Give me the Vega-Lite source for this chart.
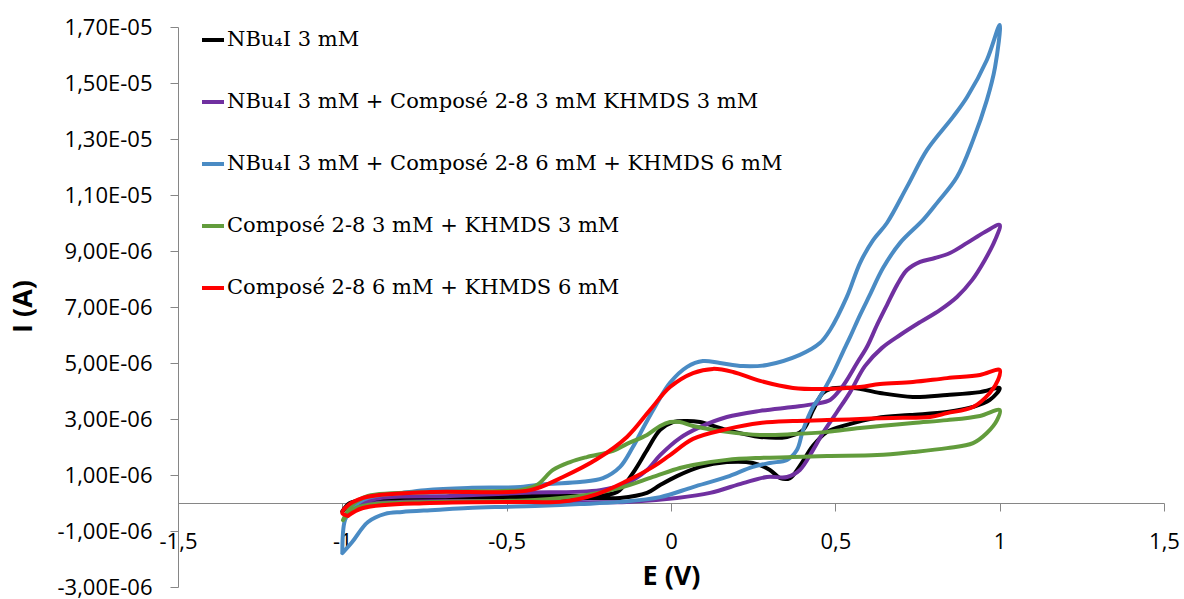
{
  "$schema": "https://vega.github.io/schema/vega-lite/v6.json",
  "width": 986,
  "height": 560,
  "autosize": {"type": "none"},
  "padding": {"left": 178, "top": 27, "right": 20, "bottom": 12},
  "background": "white",
  "config": {"view": {"stroke": null}},
  "datasets": {
    "cv": [
      {"s":"A","E":-1,"I":-0.3},{"s":"A","E":-0.977,"I":-0.07},{"s":"A","E":-0.922,"I":0.04},{"s":"A","E":-0.718,"I":0.11},{"s":"A","E":-0.414,"I":0.14},{"s":"A","E":-0.256,"I":0.18},{"s":"A","E":-0.155,"I":0.18},{"s":"A","E":-0.073,"I":0.36},{"s":"A","E":-0.033,"I":0.64},{"s":"A","E":0.018,"I":0.96},{"s":"A","E":0.088,"I":1.29},{"s":"A","E":0.17,"I":1.46},{"s":"A","E":0.249,"I":1.43},{"s":"A","E":0.301,"I":1.18},{"s":"A","E":0.332,"I":0.89},{"s":"A","E":0.362,"I":0.89},{"s":"A","E":0.392,"I":1.32},{"s":"A","E":0.432,"I":2.04},{"s":"A","E":0.475,"I":2.54},{"s":"A","E":0.535,"I":2.79},{"s":"A","E":0.627,"I":3.04},{"s":"A","E":0.727,"I":3.14},{"s":"A","E":0.84,"I":3.25},{"s":"A","E":0.919,"I":3.43},{"s":"A","E":0.97,"I":3.68},{"s":"A","E":1,"I":4.1},
      {"s":"A","E":0.94,"I":3.96},{"s":"A","E":0.84,"I":3.86},{"s":"A","E":0.736,"I":3.79},{"s":"A","E":0.636,"I":3.93},{"s":"A","E":0.554,"I":4.11},{"s":"A","E":0.484,"I":4.07},{"s":"A","E":0.462,"I":3.93},{"s":"A","E":0.432,"I":3.32},{"s":"A","E":0.402,"I":2.61},{"s":"A","E":0.353,"I":2.36},{"s":"A","E":0.271,"I":2.36},{"s":"A","E":0.17,"I":2.61},{"s":"A","E":0.088,"I":2.89},{"s":"A","E":0.049,"I":2.93},{"s":"A","E":0.006,"I":2.89},{"s":"A","E":-0.033,"I":2.61},{"s":"A","E":-0.073,"I":1.89},{"s":"A","E":-0.116,"I":1.07},{"s":"A","E":-0.164,"I":0.39},{"s":"A","E":-0.216,"I":0.29},{"s":"A","E":-0.414,"I":0.25},{"s":"A","E":-0.718,"I":0.21},{"s":"A","E":-0.922,"I":0.14},{"s":"A","E":-0.977,"I":0.0},{"s":"A","E":-1,"I":-0.3},

      {"s":"B","E":-0.986,"I":-0.46},{"s":"B","E":-0.946,"I":-0.11},{"s":"B","E":-0.824,"I":0.04},{"s":"B","E":-0.52,"I":0.07},{"s":"B","E":-0.338,"I":0.04},{"s":"B","E":-0.134,"I":0.04},{"s":"B","E":0.018,"I":0.18},{"s":"B","E":0.119,"I":0.36},{"s":"B","E":0.219,"I":0.71},{"s":"B","E":0.292,"I":0.93},{"s":"B","E":0.353,"I":0.93},{"s":"B","E":0.392,"I":1.18},{"s":"B","E":0.432,"I":1.89},{"s":"B","E":0.462,"I":2.5},{"s":"B","E":0.505,"I":3.25},{"s":"B","E":0.545,"I":3.96},{"s":"B","E":0.59,"I":4.89},{"s":"B","E":0.642,"I":5.54},{"s":"B","E":0.697,"I":6.0},{"s":"B","E":0.758,"I":6.46},{"s":"B","E":0.818,"I":6.89},{"s":"B","E":0.87,"I":7.36},{"s":"B","E":0.916,"I":7.96},{"s":"B","E":0.955,"I":8.68},{"s":"B","E":0.986,"I":9.39},{"s":"B","E":1,"I":9.93},
      {"s":"B","E":0.955,"I":9.68},{"s":"B","E":0.901,"I":9.29},{"s":"B","E":0.849,"I":8.93},{"s":"B","E":0.803,"I":8.75},{"s":"B","E":0.758,"I":8.61},{"s":"B","E":0.718,"I":8.32},{"s":"B","E":0.688,"I":7.79},{"s":"B","E":0.657,"I":7.07},{"s":"B","E":0.627,"I":6.36},{"s":"B","E":0.596,"I":5.57},{"s":"B","E":0.566,"I":5.0},{"s":"B","E":0.535,"I":4.39},{"s":"B","E":0.514,"I":4.04},{"s":"B","E":0.484,"I":3.68},{"s":"B","E":0.438,"I":3.54},{"s":"B","E":0.371,"I":3.43},{"s":"B","E":0.271,"I":3.29},{"s":"B","E":0.17,"I":3.07},{"s":"B","E":0.088,"I":2.71},{"s":"B","E":0.027,"I":2.32},{"s":"B","E":-0.033,"I":1.71},{"s":"B","E":-0.073,"I":1.18},{"s":"B","E":-0.134,"I":0.71},{"s":"B","E":-0.216,"I":0.46},{"s":"B","E":-0.459,"I":0.36},{"s":"B","E":-0.672,"I":0.25},{"s":"B","E":-0.885,"I":0.18},{"s":"B","E":-0.961,"I":-0.07},{"s":"B","E":-0.986,"I":-0.46},

      {"s":"C","E":-1,"I":-1.79},{"s":"C","E":-0.97,"I":-1.39},{"s":"C","E":-0.922,"I":-0.68},{"s":"C","E":-0.87,"I":-0.39},{"s":"C","E":-0.818,"I":-0.32},{"s":"C","E":-0.718,"I":-0.25},{"s":"C","E":-0.618,"I":-0.18},{"s":"C","E":-0.514,"I":-0.14},{"s":"C","E":-0.414,"I":-0.11},{"s":"C","E":-0.277,"I":-0.04},{"s":"C","E":-0.155,"I":0.04},{"s":"C","E":-0.033,"I":0.21},{"s":"C","E":0.067,"I":0.57},{"s":"C","E":0.17,"I":0.93},{"s":"C","E":0.249,"I":1.29},{"s":"C","E":0.301,"I":1.43},{"s":"C","E":0.353,"I":1.54},{"s":"C","E":0.383,"I":1.89},{"s":"C","E":0.402,"I":2.61},{"s":"C","E":0.432,"I":3.43},{"s":"C","E":0.453,"I":3.79},{"s":"C","E":0.493,"I":4.64},{"s":"C","E":0.523,"I":5.39},{"s":"C","E":0.545,"I":5.93},{"s":"C","E":0.575,"I":6.71},{"s":"C","E":0.605,"I":7.43},{"s":"C","E":0.645,"I":8.39},{"s":"C","E":0.697,"I":9.29},{"s":"C","E":0.767,"I":10.11},{"s":"C","E":0.809,"I":10.71},{"s":"C","E":0.87,"I":11.64},{"s":"C","E":0.919,"I":12.96},{"s":"C","E":0.961,"I":14.39},{"s":"C","E":0.986,"I":15.57},{"s":"C","E":1,"I":17.07},
      {"s":"C","E":0.961,"I":15.82},{"s":"C","E":0.901,"I":14.5},{"s":"C","E":0.858,"I":13.79},{"s":"C","E":0.779,"I":12.61},{"s":"C","E":0.718,"I":11.29},{"s":"C","E":0.657,"I":10.0},{"s":"C","E":0.615,"I":9.39},{"s":"C","E":0.575,"I":8.57},{"s":"C","E":0.535,"I":7.36},{"s":"C","E":0.484,"I":6.18},{"s":"C","E":0.453,"I":5.71},{"s":"C","E":0.392,"I":5.29},{"s":"C","E":0.292,"I":4.93},{"s":"C","E":0.219,"I":4.89},{"s":"C","E":0.149,"I":5.0},{"s":"C","E":0.097,"I":5.07},{"s":"C","E":0.049,"I":4.86},{"s":"C","E":-0.003,"I":4.29},{"s":"C","E":-0.073,"I":2.93},{"s":"C","E":-0.116,"I":2.0},{"s":"C","E":-0.155,"I":1.29},{"s":"C","E":-0.207,"I":0.89},{"s":"C","E":-0.277,"I":0.75},{"s":"C","E":-0.377,"I":0.68},{"s":"C","E":-0.459,"I":0.57},{"s":"C","E":-0.618,"I":0.54},{"s":"C","E":-0.748,"I":0.46},{"s":"C","E":-0.818,"I":0.36},{"s":"C","E":-0.922,"I":0.18},{"s":"C","E":-0.97,"I":-0.18},{"s":"C","E":-0.992,"I":-0.61},{"s":"C","E":-1,"I":-1.79},

      {"s":"D","E":-0.998,"I":-0.61},{"s":"D","E":-0.97,"I":-0.25},{"s":"D","E":-0.922,"I":-0.07},{"s":"D","E":-0.718,"I":0.04},{"s":"D","E":-0.414,"I":0.11},{"s":"D","E":-0.256,"I":0.29},{"s":"D","E":-0.155,"I":0.54},{"s":"D","E":-0.055,"I":0.93},{"s":"D","E":0.027,"I":1.25},{"s":"D","E":0.067,"I":1.36},{"s":"D","E":0.17,"I":1.54},{"s":"D","E":0.271,"I":1.61},{"s":"D","E":0.371,"I":1.64},{"s":"D","E":0.475,"I":1.68},{"s":"D","E":0.627,"I":1.71},{"s":"D","E":0.736,"I":1.82},{"s":"D","E":0.84,"I":1.96},{"s":"D","E":0.919,"I":2.14},{"s":"D","E":0.961,"I":2.5},{"s":"D","E":0.992,"I":2.96},{"s":"D","E":1,"I":3.32},
      {"s":"D","E":0.94,"I":3.11},{"s":"D","E":0.84,"I":2.96},{"s":"D","E":0.736,"I":2.86},{"s":"D","E":0.575,"I":2.68},{"s":"D","E":0.475,"I":2.54},{"s":"D","E":0.371,"I":2.46},{"s":"D","E":0.271,"I":2.43},{"s":"D","E":0.17,"I":2.54},{"s":"D","E":0.067,"I":2.75},{"s":"D","E":0.027,"I":2.89},{"s":"D","E":-0.003,"I":2.89},{"s":"D","E":-0.033,"I":2.75},{"s":"D","E":-0.073,"I":2.43},{"s":"D","E":-0.134,"I":2.11},{"s":"D","E":-0.176,"I":1.86},{"s":"D","E":-0.256,"I":1.64},{"s":"D","E":-0.307,"I":1.46},{"s":"D","E":-0.359,"I":1.18},{"s":"D","E":-0.408,"I":0.64},{"s":"D","E":-0.459,"I":0.46},{"s":"D","E":-0.514,"I":0.43},{"s":"D","E":-0.718,"I":0.39},{"s":"D","E":-0.922,"I":0.25},{"s":"D","E":-0.97,"I":-0.07},{"s":"D","E":-0.998,"I":-0.61},

      {"s":"E","E":-0.983,"I":-0.46},{"s":"E","E":-0.937,"I":-0.18},{"s":"E","E":-0.733,"I":0.0},{"s":"E","E":-0.429,"I":0.04},{"s":"E","E":-0.338,"I":0.04},{"s":"E","E":-0.225,"I":0.32},{"s":"E","E":-0.134,"I":0.79},{"s":"E","E":-0.055,"I":1.29},{"s":"E","E":-0.003,"I":1.71},{"s":"E","E":0.067,"I":2.29},{"s":"E","E":0.17,"I":2.64},{"s":"E","E":0.271,"I":2.86},{"s":"E","E":0.371,"I":2.93},{"s":"E","E":0.475,"I":2.96},{"s":"E","E":0.575,"I":3.0},{"s":"E","E":0.675,"I":3.04},{"s":"E","E":0.788,"I":3.07},{"s":"E","E":0.84,"I":3.21},{"s":"E","E":0.919,"I":3.43},{"s":"E","E":0.97,"I":3.93},{"s":"E","E":0.995,"I":4.39},{"s":"E","E":1,"I":4.75},
      {"s":"E","E":0.94,"I":4.57},{"s":"E","E":0.84,"I":4.46},{"s":"E","E":0.736,"I":4.32},{"s":"E","E":0.636,"I":4.25},{"s":"E","E":0.575,"I":4.14},{"s":"E","E":0.475,"I":4.07},{"s":"E","E":0.371,"I":4.11},{"s":"E","E":0.271,"I":4.36},{"s":"E","E":0.189,"I":4.68},{"s":"E","E":0.128,"I":4.79},{"s":"E","E":0.067,"I":4.64},{"s":"E","E":-0.003,"I":4.14},{"s":"E","E":-0.064,"I":3.32},{"s":"E","E":-0.134,"I":2.36},{"s":"E","E":-0.225,"I":1.57},{"s":"E","E":-0.329,"I":0.93},{"s":"E","E":-0.429,"I":0.46},{"s":"E","E":-0.733,"I":0.39},{"s":"E","E":-0.937,"I":0.18},{"s":"E","E":-0.992,"I":-0.18},{"s":"E","E":-1,"I":-0.36},{"s":"E","E":-0.983,"I":-0.46}
    ]
  },
  "data": {"name": "cv"},
  "mark": {"type": "line", "strokeWidth": 4, "interpolate": "catmull-rom", "strokeJoin": "round", "strokeCap": "round", "clip": false},
  "encoding": {
    "x": {
      "field": "E", "type": "quantitative",
      "scale": {"domain": [-1.5, 1.5], "nice": false, "zero": false},
      "axis": {
        "offset": -84,
        "values": [-1.5, -1, -0.5, 0, 0.5, 1, 1.5],
        "labelExpr": "replace(toString(datum.value), '.', ',')",
        "labelFlush": false, "labelOverlap": false,
        "labelFont": "Open Sans", "labelFontSize": 22, "labelColor": "#000000",
        "labelBaseline": "middle", "labelPadding": 30,
        "tickSize": 8, "tickColor": "#868686", "tickWidth": 1,
        "domainColor": "#868686", "domainWidth": 1,
        "grid": false,
        "title": "E (V)", "titleFont": "Open Sans", "titleFontSize": 27, "titleFontWeight": "bold", "titleColor": "#000000",
        "titleY": 73, "titleBaseline": "middle"
      }
    },
    "y": {
      "field": "I", "type": "quantitative",
      "scale": {"domain": [-3, 17], "nice": false, "zero": false},
      "axis": {
        "values": [-3, -1, 1, 3, 5, 7, 9, 11, 13, 15, 17],
        "labelExpr": "(datum.value < 0 ? '-' : '') + (abs(datum.value) >= 10 ? replace(format(abs(datum.value) / 10, '.2f'), '.', ',') + 'E-05' : replace(format(abs(datum.value), '.2f'), '.', ',') + 'E-06')",
        "labelOverlap": false,
        "labelFont": "Open Sans", "labelFontSize": 22, "labelColor": "#000000",
        "labelPadding": 18,
        "tickSize": 8, "tickColor": "#868686", "tickWidth": 1,
        "domainColor": "#868686", "domainWidth": 1,
        "grid": false,
        "title": "I (A)", "titleFont": "Open Sans", "titleFontSize": 27, "titleFontWeight": "bold", "titleColor": "#000000",
        "titleX": -155, "titleY": 279, "titleBaseline": "middle", "titleAlign": "center"
      }
    },
    "color": {
      "field": "s", "type": "nominal",
      "scale": {"domain": ["A", "B", "C", "D", "E"], "range": ["#000000", "#7030A0", "#4A8BC4", "#629C3C", "#FF0000"]},
      "legend": {
        "orient": "none", "legendX": 22, "legendY": 0,
        "title": null,
        "symbolType": "stroke", "symbolStrokeWidth": 4, "symbolSize": 484,
        "labelFont": "DejaVu Serif", "labelFontSize": 21, "labelColor": "#000000", "labelLimit": 900,
        "labelOffset": 1, "rowPadding": 39,
        "labelExpr": "datum.label == 'A' ? 'NBu₄I 3 mM' : datum.label == 'B' ? 'NBu₄I 3 mM + Composé 2-8 3 mM KHMDS 3 mM' : datum.label == 'C' ? 'NBu₄I 3 mM + Composé 2-8 6 mM + KHMDS 6 mM' : datum.label == 'D' ? 'Composé 2-8 3 mM + KHMDS 3 mM' : 'Composé 2-8 6 mM + KHMDS 6 mM'"
      }
    },
    "order": {"value": null}
  }
}
